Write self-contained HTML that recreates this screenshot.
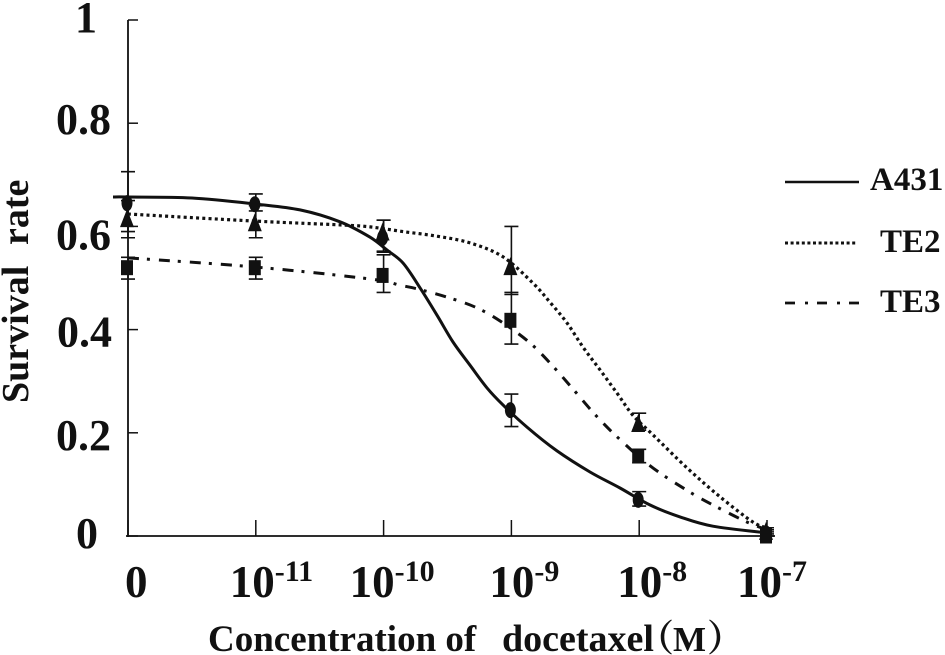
<!DOCTYPE html>
<html>
<head>
<meta charset="utf-8">
<title>Survival rate vs docetaxel concentration</title>
<style>
html,body{margin:0;padding:0;background:#fff;width:945px;height:655px;overflow:hidden}
svg{display:block}
text{font-family:"Liberation Serif","Noto Serif CJK SC",serif;font-weight:bold;fill:#111}
</style>
</head>
<body>
<svg id="chart" width="945" height="655" viewBox="0 0 945 655" xmlns="http://www.w3.org/2000/svg">
  <g id="axes"></g>
  <g id="curves"></g>
  <g id="errors"></g>
  <g id="points"></g>
  <text transform="translate(28,403) rotate(-90)" font-size="38"><tspan x="0">Survival</tspan> <tspan x="158">rate</tspan></text>
  <text y="651" font-size="37"><tspan x="208">Concentration of</tspan> <tspan x="502" font-size="38">docetaxel</tspan><tspan x="637">（</tspan><tspan x="673" font-size="35">M</tspan><tspan x="707">）</tspan></text>
  <g fill="none" stroke="#111">
    <line x1="785" y1="182" x2="859" y2="182" stroke-width="2.6"/>
    <line x1="785" y1="243" x2="857" y2="243" stroke-width="3" stroke-dasharray="3 2.6"/>
    <line x1="785" y1="303" x2="859" y2="303" stroke-width="2.8" stroke-dasharray="10 10 3 9"/>
  </g>
  <text x="870" y="190" font-size="33">A431</text>
  <text x="880" y="252" font-size="33">TE2</text>
  <text x="880" y="312" font-size="33">TE3</text>
</svg>
<script>
const NS = 'http://www.w3.org/2000/svg';

// Data: concentration step is the category index (0 = no drug, 1 = 1e-11, ... 5 = 1e-7)
const categoryBases = ['0', '10', '10', '10', '10', '10'];
const categoryExponents = ['', '-11', '-10', '-9', '-8', '-7'];
const yTicks = [0, 0.2, 0.4, 0.6, 0.8, 1];
const yTickLabels = ['0', '0.2', '0.4', '0.6', '0.8', '1'];

const a431Values = [0.645, 0.643, 0.578, 0.244, 0.070, 0.005];
const te2Values = [0.616, 0.608, 0.590, 0.523, 0.219, 0.010];
const te3Values = [0.520, 0.520, 0.505, 0.418, 0.155, 0.000];

const a431High = [0.706, 0.663, 0.612, 0.275, 0.086, 0.012];
const a431Low = [0.590, 0.630, 0.550, 0.212, 0.058, 0.000];
const te2High = [0.650, 0.640, 0.612, 0.600, 0.238, 0.016];
const te2Low = [0.578, 0.578, 0.552, 0.468, 0.205, 0.004];
const te3High = [0.540, 0.540, 0.545, 0.472, 0.168, 0.008];
const te3Low = [0.498, 0.498, 0.472, 0.372, 0.142, 0.000];

// Fitted curves: position along the category axis and the survival rate there
const a431CurveSteps = [-0.117, 0, 0.5, 1.009, 1.346, 1.659, 1.894, 2.027, 2.152, 2.285, 2.418, 2.543, 2.676, 2.809, 2.934, 3.122, 3.357, 3.615, 3.85, 4.085, 4.319, 4.577, 5];
const a431CurveValues = [0.657, 0.657, 0.655, 0.643, 0.632, 0.609, 0.579, 0.554, 0.529, 0.481, 0.428, 0.376, 0.331, 0.287, 0.254, 0.211, 0.165, 0.124, 0.093, 0.06, 0.037, 0.019, 0.006];
const te2CurveSteps = [0, 1.009, 1.659, 1.894, 2.152, 2.418, 2.676, 2.934, 3.169, 3.302, 3.435, 3.56, 3.693, 3.826, 3.951, 4.108, 4.374, 4.632, 4.89, 5];
const te2CurveValues = [0.624, 0.61, 0.603, 0.599, 0.59, 0.581, 0.568, 0.541, 0.49, 0.453, 0.413, 0.366, 0.322, 0.277, 0.234, 0.196, 0.132, 0.076, 0.027, 0.016];
const te3CurveSteps = [0, 1.009, 1.894, 2.128, 2.261, 2.496, 2.731, 2.934, 3.146, 3.318, 3.474, 3.638, 3.811, 4.085, 4.397, 4.609, 4.844, 5];
const te3CurveValues = [0.539, 0.521, 0.498, 0.486, 0.479, 0.463, 0.442, 0.413, 0.374, 0.331, 0.287, 0.24, 0.196, 0.136, 0.085, 0.056, 0.027, 0.012];

const xScale = step => 128 + step * 127.8;
const yScale = value => 536 - value * 516;

function el(parent, tag, attrs) {
  const node = document.createElementNS(NS, tag);
  for (const k in attrs) node.setAttribute(k, attrs[k]);
  parent.appendChild(node);
  return node;
}

function smoothPath(steps, values) {
  const p = steps.map((s, i) => [xScale(s), yScale(values[i])]);
  let d = 'M' + p[0][0].toFixed(1) + ' ' + p[0][1].toFixed(1);
  for (let i = 0; i < p.length - 1; i++) {
    const a = p[Math.max(i - 1, 0)], b = p[i], c = p[i + 1], e = p[Math.min(i + 2, p.length - 1)];
    const c1 = [b[0] + (c[0] - a[0]) / 6, b[1] + (c[1] - a[1]) / 6];
    const c2 = [c[0] - (e[0] - b[0]) / 6, c[1] - (e[1] - b[1]) / 6];
    d += ' C' + c1[0].toFixed(1) + ' ' + c1[1].toFixed(1) + ' ' + c2[0].toFixed(1) + ' ' + c2[1].toFixed(1) + ' ' + c[0].toFixed(1) + ' ' + c[1].toFixed(1);
  }
  return d;
}

const axes = document.getElementById('axes');
const yAxisLine = el(axes, 'line', {x1: 128, y1: yScale(1), x2: 128, y2: yScale(0) + 1, stroke: '#111', 'stroke-width': 1.8});


const xAxisLine = el(axes, 'line', {x1: 126, y1: yScale(0), x2: xScale(5) + 8, y2: yScale(0), stroke: '#111', 'stroke-width': 1.8});



// Label placement relative to the tick, as in the source figure
const yLabelShift = [12, 17, 17, 23, 11, 12];
const yLabelNudge = [-13, 0, 1, 0, 0, -14];
yTicks.forEach((t, i) => {
  const tick = el(axes, 'line', {x1: 128, y1: yScale(t), x2: 138, y2: yScale(t), stroke: '#111', 'stroke-width': 1.5});
  
  
  const label = el(axes, 'text', {x: 111 + yLabelNudge[i], y: yScale(t) + yLabelShift[i], 'font-size': 44, 'text-anchor': 'end'});
  
  
  label.textContent = yTickLabels[i];
});

const xLabelNudge = [-3, -26, -34, -22, -22, -30];
categoryBases.forEach((base, i) => {
  const x = xScale(i);
  const tick = el(axes, 'line', {x1: x, y1: yScale(0), x2: x, y2: yScale(0) - 16, stroke: '#111', 'stroke-width': 1.5});
  
  
  const label = el(axes, 'text', {x: x + xLabelNudge[i], y: 597, 'font-size': 45});
  
  
  label.appendChild(document.createTextNode(base));
  if (categoryExponents[i]) {
    const sup = el(label, 'tspan', {dy: -16, 'font-size': 30});
    sup.textContent = categoryExponents[i];
  }
});

const seriesList = [
  {name: 'a431', values: a431Values, high: a431High, low: a431Low, steps: a431CurveSteps, curve: a431CurveValues, dash: '', width: 3, marker: 'circle'},
  {name: 'te2', values: te2Values, high: te2High, low: te2Low, steps: te2CurveSteps, curve: te2CurveValues, dash: '3 3.2', width: 3.2, marker: 'triangle'},
  {name: 'te3', values: te3Values, high: te3High, low: te3Low, steps: te3CurveSteps, curve: te3CurveValues, dash: '11 8 3 9', width: 3, marker: 'square'}
];

const curves = document.getElementById('curves');
const errors = document.getElementById('errors');
const points = document.getElementById('points');

seriesList.forEach(s => {
  const line = el(curves, 'path', {d: smoothPath(s.steps, s.curve), fill: 'none', stroke: '#111', 'stroke-width': s.width});
  if (s.dash) line.setAttribute('stroke-dasharray', s.dash);
  
  

  s.values.forEach((v, i) => {
    const x = xScale(i), y = yScale(v), yHi = yScale(s.high[i]), yLo = yScale(s.low[i]);
    const bar = el(errors, 'path', {
      d: 'M' + x + ' ' + yHi + 'V' + yLo + 'M' + (x - 7) + ' ' + yHi + 'h14M' + (x - 7) + ' ' + yLo + 'h14',
      fill: 'none', stroke: '#111', 'stroke-width': 1.6
    });
    
    

    let mark;
    if (s.marker === 'circle') {
      mark = el(points, 'ellipse', {cx: x - 1, cy: y, rx: 5.5, ry: 8, fill: '#111'});
    } else if (s.marker === 'triangle') {
      mark = el(points, 'path', {d: 'M' + (x - 1) + ' ' + (y - 9) + 'l7 18h-14z', fill: '#111'});
    } else {
      mark = el(points, 'rect', {x: x - 7, y: y - 7.5, width: 12, height: 15, fill: '#111'});
    }
    
    
  });
});
</script>
</body>
</html>
